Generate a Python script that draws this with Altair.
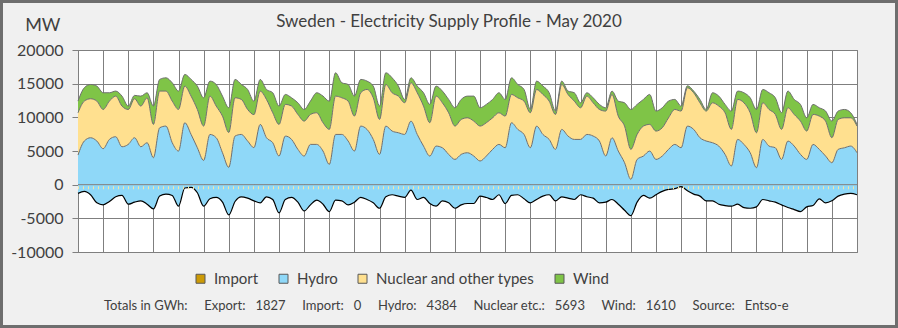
import altair as alt
import pandas as pd

# ---- data (MW, 6-hour steps, 1 May 00:00 .. 1 June 00:00) ----
hydro = [4400, 6480, 6970, 6480, 5340, 6720, 7120, 5630, 5980, 6970, 5630, 6230,
         4000, 8450, 8700, 6230, 4990, 9200, 7460, 5480, 3600, 7460, 6970, 4740,
         2570, 7220, 7460, 6480, 5500, 8950, 6970, 6230, 4250, 7220, 6720, 5240,
         4250, 5980, 5980, 4990, 3010, 7460, 7460, 6480, 4990, 8700, 8210, 6720,
         4500, 8700, 7960, 7710, 7460, 9440, 7460, 5730, 4250, 5730, 5480, 4500,
         3750, 4500, 4740, 4250, 3510, 4250, 5240, 5980, 5480, 9200, 8210, 7460,
         5480, 8700, 7460, 6720, 5240, 8210, 7220, 6720, 6720, 7460, 7220, 6480,
         4250, 6970, 4990, 3260, 790, 3750, 4250, 4990, 3750, 4250, 5240, 5980,
         5480, 8700, 8210, 6970, 6480, 6230, 5730, 4500, 2770, 6720, 5980, 4740,
         2520, 6720, 5730, 5480, 3750, 6480, 5730, 4500, 3750, 5980, 5240, 4250,
         3260, 5240, 5480, 5730, 4740]
nuclear = [6280, 5930, 5790, 5930, 5830, 5690, 6030, 6040, 5190, 5790, 6040, 6670,
           4950, 5450, 5200, 6180, 6180, 5440, 5690, 5690, 5100, 5690, 4700, 5440,
           5180, 5680, 5200, 4690, 4900, 4950, 5690, 4450, 4700, 4700, 4950, 5190,
           5190, 4450, 4700, 4210, 5200, 5690, 5440, 5930, 5190, 4950, 5930, 6180,
           5190, 6180, 5690, 5440, 4700, 5690, 6190, 5940, 4950, 7420, 6680, 6180,
           4950, 5190, 5190, 5190, 5190, 4950, 4690, 4700, 4700, 4200, 4690, 4950,
           5200, 5440, 5940, 5690, 5190, 6670, 6180, 5690, 4700, 5690, 4940, 4690,
           6680, 6430, 5190, 5440, 4450, 3710, 4450, 3960, 4210, 4200, 4690, 5190,
           5450, 5690, 5440, 5190, 4450, 5930, 5940, 6180, 5440, 5940, 6180, 5940,
           5190, 5440, 5440, 4950, 4460, 4940, 4700, 4940, 4210, 4450, 4940, 5190,
           3710, 4450, 4450, 4200, 3960]
wind = [1730, 1980, 2120, 2230, 2480, 1240, 750, 1480, 500, 500, 1480, 750,
        2720, 1730, 1970, 2720, 2730, 1730, 2480, 3470, 4200, 2230, 3210, 2970,
        3670, 2730, 2220, 2970, 2000, 1730, 1480, 2970, 2720, 1480, 1230, 1730,
        1730, 1980, 2970, 3950, 4190, 3470, 2230, 2470, 2970, 1980, 1240, 1740,
        1980, 1740, 2220, 1490, 500, 740, 990, 1980, 2720, 1490, 1740, 1980,
        2720, 2970, 3220, 3710, 2720, 2720, 2730, 2970, 2480, 2470, 1980, 1730,
        490, 1240, 1240, 1240, 500, 500, 500, 1240, 740, 500, 740, 750,
        490, 500, 2230, 3460, 5930, 4460, 3960, 4450, 2970, 2970, 2480, 1490,
        740, 300, 250, 500, 240, 1490, 1480, 1240, 2720, 1240, 1490, 2220,
        3460, 1980, 2480, 2470, 2470, 2480, 2230, 2480, 1970, 1490, 1240, 1490,
        2480, 1240, 1240, 750, 250]
export = [-1290, -1000, -1500, -2700, -3000, -2500, -1800, -1600, -2900, -2600, -2400, -2900,
          -3600, -1700, -1400, -1600, -3200, -500, -400, -1200, -3200, -2100, -1900, -2600,
          -4500, -2500, -1800, -2000, -2400, -2700, -1800, -2200, -4200, -2200, -1900, -2600,
          -3900, -3000, -2300, -2900, -4000, -2300, -2400, -3000, -2600, -1900, -2200, -2700,
          -3500, -1800, -1500, -1700, -1900, -800, -2200, -1900, -2800, -3200, -2400, -2700,
          -3500, -3000, -2800, -2800, -1700, -1900, -2200, -1500, -2800, -1600, -1500, -2100,
          -2700, -2200, -1700, -1500, -2400, -1800, -2000, -2200, -1500, -1800, -2000, -2700,
          -2600, -2200, -2900, -3800, -4600, -2600, -1600, -2000, -1500, -1000, -700, -600,
          -300, -900, -1400, -1700, -2400, -2400, -2900, -3100, -3200, -2900, -3400, -3500,
          -3300, -2200, -2400, -2600, -3000, -3400, -3700, -4000, -3300, -3100, -2100, -2700,
          -2400, -1700, -1400, -1300, -1500]

series_names = ["Import", "Hydro", "Nuclear and other types", "Wind"]
series_colors = ["#cc9a06", "#8fd8f8", "#ffe08f", "#7fc447"]
y_ticks = [-10000, -5000, 0, 5000, 10000, 15000, 20000]
day_ticks = list(range(32))

totals = {"Export": 1827, "Import": 0, "Hydro": 4384, "Nuclear etc.": 5693, "Wind": 1610}
source = "Entso-e"
title_text = "Sweden - Electricity Supply Profile - May 2020"

FONT = "Lato"
TXT = "#404040"
GRID = "#7f7f7f"
INTERP = "monotone"

# ---- tables ----
steps_per_day = 4
days = [i / steps_per_day for i in range(len(hydro))]
rows = []
for d, h, n, w in zip(days, hydro, nuclear, wind):
    rows.append({"day": d, "series": "Hydro", "lower": 0, "upper": h})
    rows.append({"day": d, "series": "Nuclear and other types", "lower": h, "upper": h + n})
    rows.append({"day": d, "series": "Wind", "lower": h + n, "upper": h + n + w})
stack_df = pd.DataFrame(rows)
exp_df = pd.DataFrame({"day": days, "export": export})

xs = alt.Scale(domain=[0, 31], nice=False, zero=False)
ys = alt.Scale(domain=[-10000, 20000], nice=False)

x_axis = alt.Axis(values=day_ticks, labels=False, ticks=False, domain=False,
                  grid=True, gridColor=GRID, gridWidth=1, gridOpacity=1, title=None)
label_expr = "datum.value < 0 ? '-' + format(-datum.value, 'd') : format(datum.value, 'd')"
y_axis = alt.Axis(values=y_ticks, labelExpr=label_expr, labelOverlap=False,
                  labelFlush=False, grid=True, gridColor=GRID, gridOpacity=1,
                  gridWidth=1, domain=False, tickColor=GRID, tickSize=6,
                  labelFont=FONT, labelFontSize=16, labelColor=TXT, labelPadding=9,
                  title="MW", titleAngle=0, titleAlign="right", titleBaseline="middle",
                  titleX=-18, titleY=-25, titleFont=FONT, titleFontSize=18,
                  titleFontWeight="normal", titleColor=TXT)


def X():
    return alt.X("day:Q", scale=xs, axis=x_axis)


def Y(field):
    return alt.Y(field, scale=ys, axis=y_axis)


areas = alt.Chart(stack_df).mark_area(interpolate=INTERP).encode(
    x=X(),
    y=Y("upper:Q"),
    y2="lower:Q",
    color=alt.Color("series:N",
                    scale=alt.Scale(domain=series_names, range=series_colors),
                    legend=alt.Legend(orient="none", legendX=115, legendY=221,
                                      direction="horizontal", title=None,
                                      symbolType="square", symbolSize=81,
                                      symbolStrokeColor="#595959", symbolStrokeWidth=1,
                                      labelFont=FONT, labelFontSize=15, labelColor=TXT,
                                      labelOffset=6, columnPadding=17, padding=0)),
    order=alt.Order("series:N"),
)

tops = alt.Chart(stack_df).mark_line(color="#6f6f6f", strokeWidth=1, interpolate=INTERP).encode(
    x=X(),
    y=Y("upper:Q"),
    detail="series:N",
)

exp_area = alt.Chart(exp_df).mark_area(color=series_colors[1], interpolate=INTERP).encode(
    x=X(),
    y=Y("export:Q"),
    y2=alt.datum(0),
)
exp_line = alt.Chart(exp_df).mark_line(color="#000000", strokeWidth=1.2, interpolate=INTERP).encode(
    x=X(),
    y=Y("export:Q"),
)

one = pd.DataFrame({"k": [0]})
zero_rule = alt.Chart(one).mark_rule(color=GRID, strokeWidth=1).encode(
    y=alt.datum(0, scale=ys, axis=y_axis), x=alt.value(0), x2=alt.value(779))
dots = alt.Chart(one).mark_rule(color="#f3e6a6", strokeWidth=3, strokeDash=[1, 4]).encode(
    y=alt.datum(-450, scale=ys, axis=y_axis), x=alt.value(0), x2=alt.value(779))

nb = "\u00a0"
parts = ["Totals in GWh:"]
for k, v in totals.items():
    parts.append(f"{k}:{nb*3}{v}")
parts.append(f"Source:{nb*3}{source}")
footer_text = (nb * 5).join(parts)
footer = alt.Chart(pd.DataFrame({"t": [footer_text]})).mark_text(
    align="left", baseline="middle", font=FONT, fontSize=13, color=TXT
).encode(text="t:N", x=alt.value(26), y=alt.value(256))

title = alt.Chart(pd.DataFrame({"t": [title_text]})).mark_text(
    align="center", baseline="middle", font=FONT, fontSize=17, color=TXT
).encode(text="t:N", x=alt.value(371), y=alt.value(-28))

frame = alt.Chart(one).mark_rect(fill=None, stroke="#6e6e6e", strokeWidth=3).encode(
    x=alt.value(-76.5), x2=alt.value(818.5), y=alt.value(-48.5), y2=alt.value(276.5))

chart = alt.layer(exp_area, areas, tops, exp_line, zero_rule, dots, footer, title, frame).properties(
    width=779, height=202,
    autosize=alt.AutoSizeParams(type="none"),
    padding={"left": 78, "top": 50, "right": 41, "bottom": 76},
).configure(background="#f0f0f0").configure_view(stroke=GRID, fill="white", strokeWidth=1)

chart.save("out.html", embed_options={"renderer": "svg", "actions": False})
